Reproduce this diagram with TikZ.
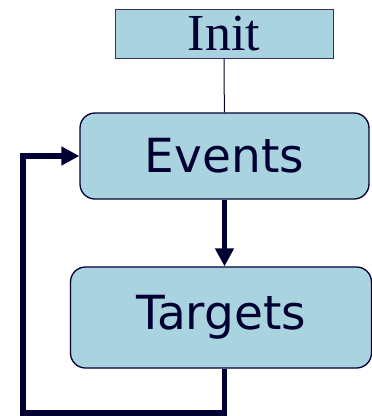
\documentclass[tikz,border=0pt]{standalone}
\usepackage{fontspec}
\usetikzlibrary{arrows.meta,positioning}
\newfontfamily\boxsans{DejaVu Sans}
\newfontfamily\boxserif{Liberation Serif}
\definecolor{boxfill}{RGB}{170,211,224}
\definecolor{navy}{RGB}{0,0,51}

\begin{document}
\begin{tikzpicture}[x=1pt,y=-1pt,
     initbox/.style = {draw=navy!80, fill=boxfill, line width=0.8pt, rectangle,
      minimum width=218pt, minimum height=49pt, inner sep=0pt,
      text=navy, font=\boxserif\fontsize{52}{52}\selectfont},
     stagebox/.style = {draw=navy, fill=boxfill, line width=1.3pt, rectangle,
      rounded corners=15pt, inner sep=0pt,
      text=navy, font=\boxsans\fontsize{47}{47}\selectfont},
     thinline/.style = {draw=navy, line width=1pt},
     flow/.style = {draw=navy, line width=5.5pt,
      -{Triangle[length=18pt,width=18pt]}}
    ]
    \useasboundingbox (0,0) rectangle (372,416);
    \node [initbox] (init) at (224,33.5) {Init};
    \node [stagebox, minimum width=289pt, minimum height=86pt] (events) at (224.5,156) {Events};
    \node [stagebox, minimum width=301pt, minimum height=101pt] (targets) at (221,317.5) {Targets};
    \coordinate (corner) at (23,413);

    \draw[thinline] (init) -- (events);
    \draw[flow] (events) -- (targets.north -| events);
    \draw[flow] (targets.south -| events) |- (corner) |- (events.west);
\end{tikzpicture}
\end{document}
